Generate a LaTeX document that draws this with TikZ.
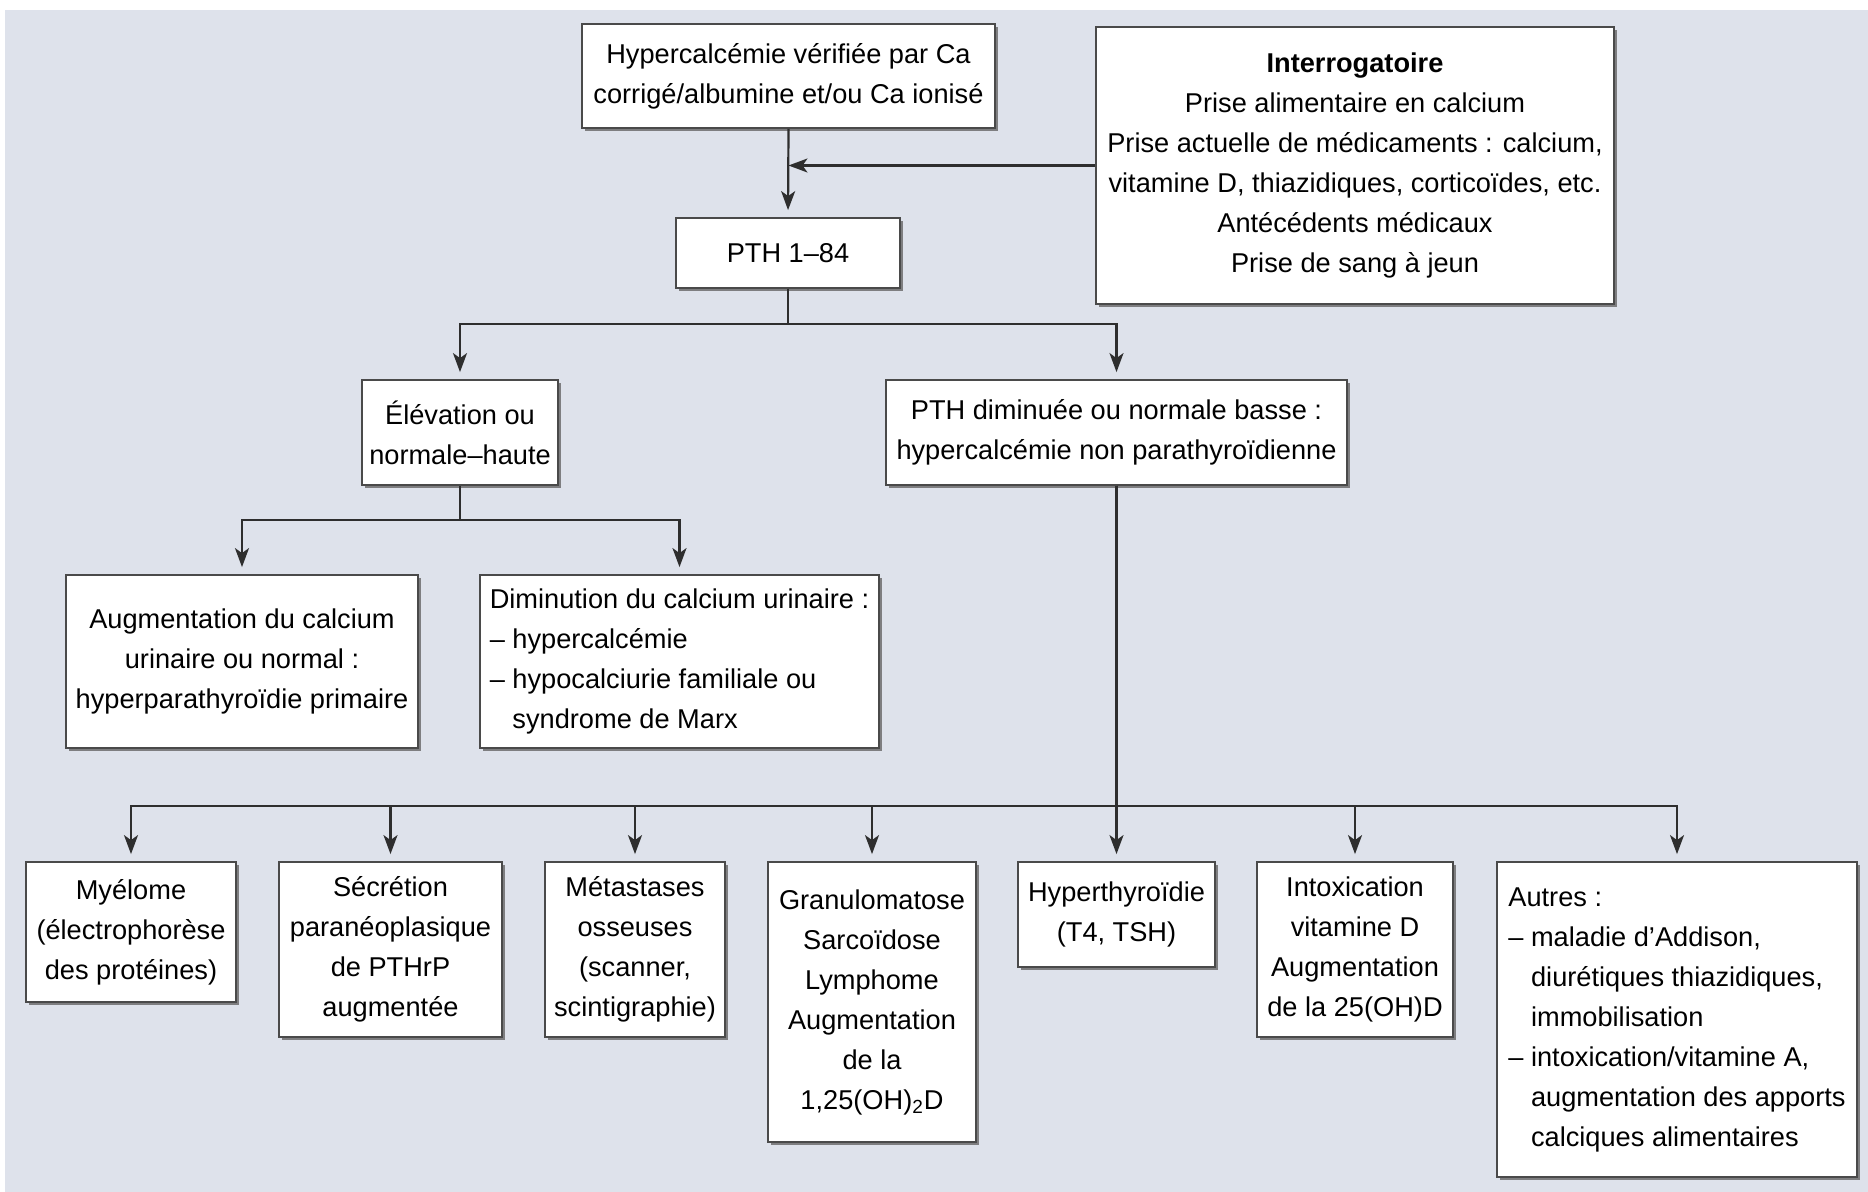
\documentclass[tikz,border=0pt]{standalone}
\usepackage{fontspec}
\setmainfont{Liberation Sans}
\usetikzlibrary{arrows.meta,shadows}
\definecolor{bg}{HTML}{DEE2EB}
\definecolor{ln}{HTML}{2E2E2E}
\definecolor{bx}{HTML}{4A4A4A}
\begin{document}
\begin{tikzpicture}[x=0.5pt,y=-0.5pt,
  box/.style={draw=bx, fill=white, line width=0.9pt, inner sep=0pt, align=center,
    font=\fontsize{13.6}{20}\selectfont,
    drop shadow={shadow xshift=1.3pt, shadow yshift=-1.3pt, fill=black!60, opacity=0.8}},
  arr/.style={draw=ln, line width=1.1pt, -{Stealth[length=9.5pt,width=7pt,inset=2.5pt]}, shorten >=3.5pt},
  arrt/.style={draw=ln, line width=1.1pt, -{Stealth[length=9.5pt,width=7pt,inset=2.5pt]}}]
\useasboundingbox (0,0) rectangle (1868,1192);
\fill[bg] (5,10) rectangle (1868,1192);

\node[box, minimum width=206.5pt, minimum height=52pt] (hyp) at (788.5,76)
  {Hypercalcémie vérifiée par Ca\\corrigé/albumine et/ou Ca ionisé};
\node[box, minimum width=259pt, minimum height=138.5pt] (interr) at (1355,165.5)
  {\textbf{Interrogatoire}\\Prise alimentaire en calcium\\Prise actuelle de médicaments : calcium,\\vitamine D, thiazidiques, corticoïdes, etc.\\Antécédents médicaux\\Prise de sang à jeun};
\node[box, minimum width=112pt, minimum height=35pt] (pth) at (788,253) {PTH 1–84};
\node[box, minimum width=98pt, minimum height=52.5pt] (elev) at (460,432.5) {Élévation ou\\normale–haute};
\node[box, minimum width=230.5pt, minimum height=52.5pt] (dimin) at (1116.5,432.5)
  {PTH diminuée ou normale basse :\\hypercalcémie non parathyroïdienne};
\node[box, minimum width=176pt, minimum height=86.5pt] (aug) at (242,661.5)
  {Augmentation du calcium\\urinaire ou normal :\\hyperparathyroïdie primaire};
\node[box, minimum width=199.5pt, minimum height=86.5pt, align=left] (diu) at (679.5,661.5)
  {Diminution du calcium urinaire :\\– hypercalcémie\\– hypocalciurie familiale ou\\\phantom{– }syndrome de Marx};
\node[box, minimum width=105pt, minimum height=70pt] (mye) at (131,932)
  {Myélome\\(électrophorèse\\des protéines)};
\node[box, minimum width=111.5pt, minimum height=87.5pt] (sec) at (390.5,949.5)
  {Sécrétion\\paranéoplasique\\de PTHrP\\augmentée};
\node[box, minimum width=90pt, minimum height=87.5pt] (met) at (635,949.5)
  {Métastases\\osseuses\\(scanner,\\scintigraphie)};
\node[box, minimum width=104pt, minimum height=140pt] (gra) at (872,1002)
  {Granulomatose\\Sarcoïdose\\Lymphome\\Augmentation\\de la\\1,25(OH)\textsubscript{2}D};
\node[box, minimum width=98.5pt, minimum height=52.5pt] (hyt) at (1116.5,914.5)
  {Hyperthyroïdie\\(T4, TSH)};
\node[box, minimum width=98pt, minimum height=87.5pt] (int) at (1355,949.5)
  {Intoxication\\vitamine D\\Augmentation\\de la 25(OH)D};
\node[box, minimum width=180pt, minimum height=157.5pt, align=left] (aut) at (1677,1019.5)
  {Autres :\\– maladie d’Addison,\\\phantom{– }diurétiques thiazidiques,\\\phantom{– }immobilisation\\– intoxication/vitamine A,\\\phantom{– }augmentation des apports\\\phantom{– }calciques alimentaires};

% connectors
\draw[arr] (hyp.south) -- (pth.north);
\draw[arrt] (interr.west) -- (interr.west -| hyp.south);
\draw[arr] (pth.south) -- ++(0,35) -| (elev.north);
\draw[arr] (pth.south) -- ++(0,35) -| (dimin.north);
\draw[arr] (elev.south) -- ++(0,34) -| (aug.north);
\draw[arr] (elev.south) -- ++(0,34) -| (diu.north);
\draw[arr] (dimin.south) -- (hyt.north);
\draw[arr] (dimin.south) -- ++(0,320) -| (mye.north);
\draw[arr] (dimin.south) -- ++(0,320) -| (sec.north);
\draw[arr] (dimin.south) -- ++(0,320) -| (met.north);
\draw[arr] (dimin.south) -- ++(0,320) -| (gra.north);
\draw[arr] (dimin.south) -- ++(0,320) -| (int.north);
\draw[arr] (dimin.south) -- ++(0,320) -| (aut.north);
\end{tikzpicture}
\end{document}
